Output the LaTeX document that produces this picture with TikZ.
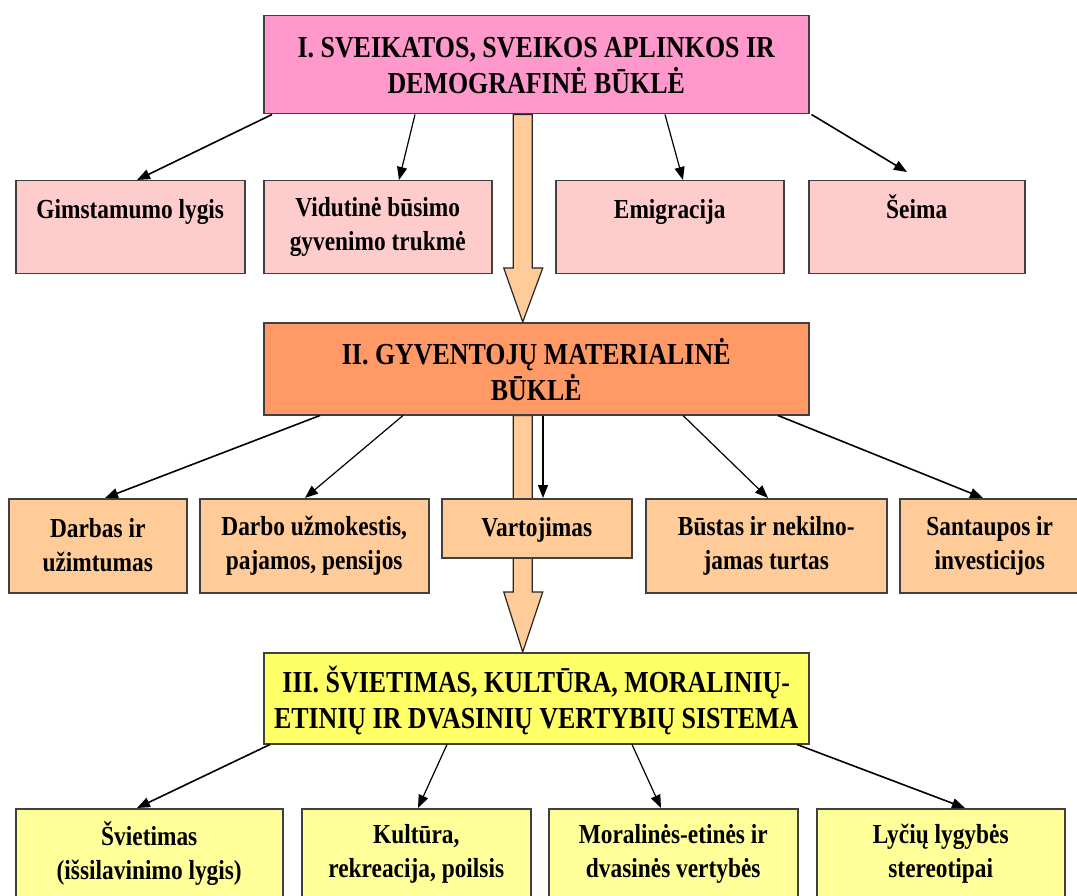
\documentclass[tikz,border=0pt]{standalone}
\usepackage{fontspec}
\setmainfont{Liberation Serif}[FakeStretch=0.85]
\usetikzlibrary{arrows.meta,calc}
\definecolor{pinkA}{HTML}{FF99CC}
\definecolor{pinkB}{HTML}{FFCCCC}
\definecolor{orangeA}{HTML}{FF9966}
\definecolor{orangeB}{HTML}{FFCC99}
\definecolor{yellowA}{HTML}{FFFF66}
\definecolor{yellowB}{HTML}{FFFF99}
\definecolor{edge}{HTML}{404040}
\begin{document}
\begin{tikzpicture}[x=1pt,y=-1pt,
  box/.style={draw=edge,line width=1.5pt,inner sep=0pt,anchor=north west},
  txt/.style={font=\fontsize{27.5pt}{34pt}\selectfont\bfseries,align=center,inner sep=0pt},
  ttl/.style={font=\fontsize{30.5pt}{36pt}\selectfont\bfseries,align=center,inner sep=0pt},
  link/.style={draw=black,line width=1.6pt,-{Triangle[length=13pt,width=10pt]}},
  bigarrow/.style={draw=black!85,line width=1.2pt,fill=orangeB,line join=miter}]
\useasboundingbox (0,0) rectangle (1077,896);
\node[box,fill=pinkA,minimum width=545pt,minimum height=98pt] (t1) at (263,15) {};
\node[box,fill=orangeA,minimum width=545pt,minimum height=92pt] (t2) at (263,322) {};
\node[box,fill=yellowA,minimum width=545pt,minimum height=91pt] (t3) at (263,652) {};
% big hollow arrows
\draw[bigarrow] ([xshift=-23pt]t1.south) -- ([xshift=-23pt,yshift=54pt]t2.north)
  -- ([xshift=-32.5pt,yshift=54pt]t2.north) -- ([xshift=-13.5pt]t2.north)
  -- ([xshift=6.5pt,yshift=54pt]t2.north) -- ([xshift=-4pt,yshift=54pt]t2.north)
  -- ([xshift=-4pt]t1.south) -- cycle;
\draw[bigarrow] ([xshift=-23pt]t2.south) -- ([xshift=-23pt,yshift=60pt]t3.north)
  -- ([xshift=-32.5pt,yshift=60pt]t3.north) -- ([xshift=-13.5pt]t3.north)
  -- ([xshift=6.5pt,yshift=60pt]t3.north) -- ([xshift=-4pt,yshift=60pt]t3.north)
  -- ([xshift=-4pt]t2.south) -- cycle;
% redraw title boxes on top of the arrow ends
\node[box,fill=pinkA,minimum width=545pt,minimum height=98pt] at (263,15) {};
\node[box,fill=orangeA,minimum width=545pt,minimum height=92pt] at (263,322) {};
\node[box,fill=yellowA,minimum width=545pt,minimum height=91pt] at (263,652) {};
\node[ttl] (t1t) at ([yshift=-51pt]t1.north) {I. SVEIKATOS, SVEIKOS APLINKOS IR\\DEMOGRAFINĖ BŪKLĖ};
\node[ttl] (t2t) at ([yshift=-48pt]t2.north) {II. GYVENTOJŲ MATERIALINĖ\\BŪKLĖ};
\node[ttl] (t3t) at ([yshift=-48pt]t3.north) {III. ŠVIETIMAS, KULTŪRA, MORALINIŲ-\\ETINIŲ IR DVASINIŲ VERTYBIŲ SISTEMA};
% level 1 children
\node[box,fill=pinkB,minimum width=229pt,minimum height=93pt] (c11) at (15,180) {};
\node[box,fill=pinkB,minimum width=228pt,minimum height=93pt] (c12) at (263,180) {};
\node[box,fill=pinkB,minimum width=228pt,minimum height=93pt] (c13) at (555,180) {};
\node[box,fill=pinkB,minimum width=216pt,minimum height=93pt] (c14) at (808,180) {};
\node[txt,anchor=base] at ([yshift=-39pt]c11.north) {Gimstamumo lygis};
\node[txt] at ([yshift=-46.5pt]c12.north) {Vidutinė būsimo\\gyvenimo trukmė};
\node[txt,anchor=base] at ([yshift=-39pt]c13.north) {Emigracija};
\node[txt,anchor=base] at ([yshift=-39pt]c14.north) {Šeima};
% level 2 children
\node[box,fill=orangeB,minimum width=178pt,minimum height=94pt] (c21) at (8,498) {};
\node[box,fill=orangeB,minimum width=229pt,minimum height=94pt] (c22) at (199,498) {};
\node[box,fill=orangeB,minimum width=190pt,minimum height=59pt] (c23) at (441,498) {};
\node[box,fill=orangeB,minimum width=241pt,minimum height=94pt] (c24) at (645,498) {};
\node[box,fill=orangeB,minimum width=180pt,minimum height=94pt] (c25) at (899,498) {};
\node[txt] at ([yshift=-47.5pt]c21.north) {Darbas ir\\užimtumas};
\node[txt] at ([yshift=-47.5pt]c22.north) {Darbo užmokestis,\\pajamos, pensijos};
\node[txt,anchor=base] at ([yshift=-38pt]c23.north) {Vartojimas};
\node[txt] at ([yshift=-47.5pt]c24.north) {Būstas ir nekilno-\\jamas turtas};
\node[txt] at ([yshift=-47.5pt]c25.north) {Santaupos ir\\investicijos};
% level 3 children
\node[box,fill=yellowB,minimum width=267pt,minimum height=95pt] (c31) at (15,808) {};
\node[box,fill=yellowB,minimum width=229pt,minimum height=95pt] (c32) at (301,808) {};
\node[box,fill=yellowB,minimum width=249pt,minimum height=95pt] (c33) at (548,808) {};
\node[box,fill=yellowB,minimum width=248pt,minimum height=95pt] (c34) at (816,808) {};
\node[txt] at ([yshift=-46pt]c31.north) {Švietimas\\(išsilavinimo lygis)};
\node[txt] at ([yshift=-46pt]c32.north) {Kultūra,\\rekreacija, poilsis};
\node[txt] at ([yshift=-46pt]c33.north) {Moralinės-etinės ir\\dvasinės vertybės};
\node[txt] at ([yshift=-46pt]c34.north) {Lyčių lygybės\\stereotipai};
% connectors level 1
\draw[link] ([xshift=9pt]t1.south west) -- ([xshift=122pt]c11.north west);
\draw[link,line width=1.2pt] ([xshift=152pt]t1.south west) -- ([xshift=136pt]c12.north west);
\draw[link,line width=1.2pt] ([xshift=402pt]t1.south west) -- ([xshift=128pt]c13.north west);
\draw[link] ([xshift=2pt]t1.south east) -- ([xshift=99pt,yshift=8pt]c14.north west);
% connectors level 2
\draw[link] ([xshift=57pt]t2.south west) -- ([xshift=97pt]c21.north west);
\draw[link,line width=1.2pt] ([xshift=140pt]t2.south west) -- ([xshift=106pt]c22.north west);
\draw[link,line width=1.2pt] ([xshift=280pt]t2.south west) -- ([xshift=102pt]c23.north west);
\draw[link,line width=1.2pt] ([xshift=420pt]t2.south west) -- ([xshift=123pt]c24.north west);
\draw[link] ([xshift=515pt]t2.south west) -- ([xshift=84pt]c25.north west);
% connectors level 3
\draw[link] ([xshift=7pt]t3.south west) -- ([xshift=122pt]c31.north west);
\draw[link,line width=1.2pt] ([xshift=184pt]t3.south west) -- ([xshift=117pt]c32.north west);
\draw[link,line width=1.2pt] ([xshift=369pt]t3.south west) -- ([xshift=113pt]c33.north west);
\draw[link] ([xshift=534pt]t3.south west) -- ([xshift=149pt]c34.north west);
\end{tikzpicture}
\end{document}
